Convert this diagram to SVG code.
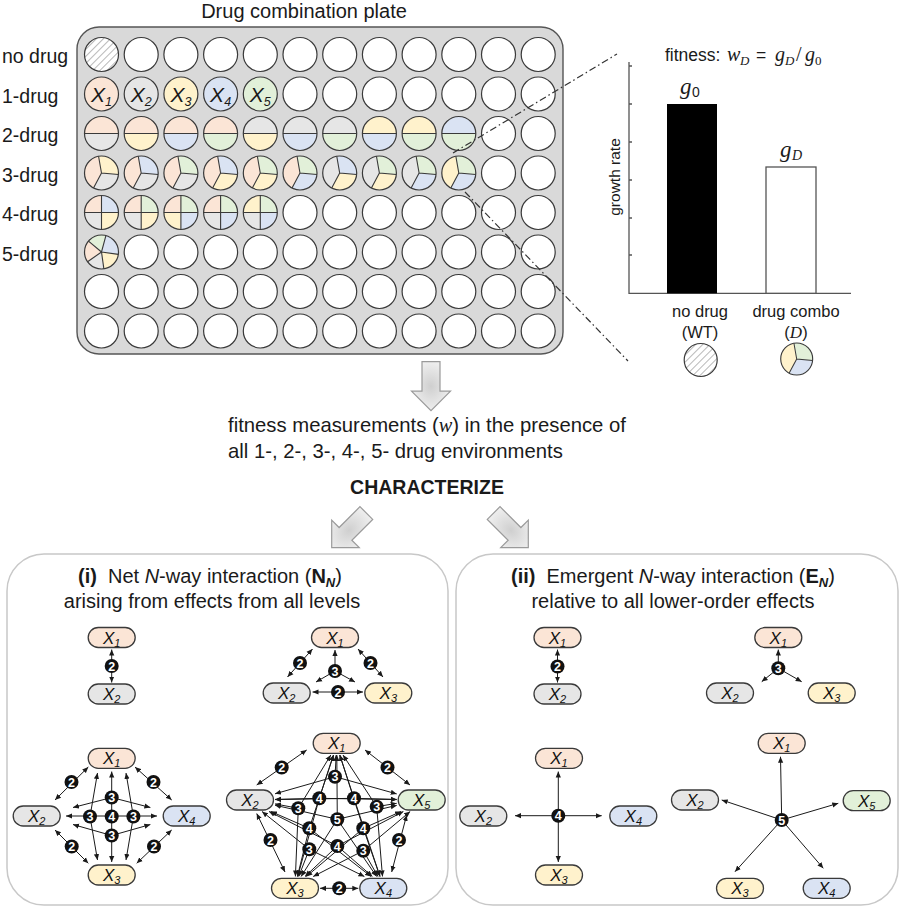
<svg xmlns="http://www.w3.org/2000/svg" xmlns:xlink="http://www.w3.org/1999/xlink" width="900" height="911" viewBox="0 0 900 911">
<style>
.t{font-family:"Liberation Sans",Arial,sans-serif;fill:#1a1a1a}
.m{font-family:"Liberation Serif","Times New Roman",serif;font-style:italic}
.c1{fill:#fbe5d6}.c2{fill:#e6e6e6}.c3{fill:#fff2cc}.c4{fill:#dae3f3}.c5{fill:#e2f0d9}
.nd{stroke:#3a3a3a;stroke-width:1.3}
.nt{font-family:"Liberation Sans",Arial,sans-serif;font-style:italic;font-size:17px;text-anchor:middle;fill:#111}
.sb{font-size:11px}
.e1{stroke:#1a1a1a;stroke-width:1;fill:none;marker-end:url(#ah)}
.e2{stroke:#1a1a1a;stroke-width:1;fill:none;marker-start:url(#ah);marker-end:url(#ah)}
.bd circle{fill:#111}
.bd text{fill:#fff;font-family:"Liberation Sans",Arial,sans-serif;font-weight:bold;font-size:12.5px;text-anchor:middle}
.dd{stroke:#333;stroke-width:1.2;fill:none;stroke-dasharray:7 3 1.5 3}
.pn{fill:#fff;stroke:#c8c8c8;stroke-width:1.5}
.ba{fill:url(#gg);stroke:#9a9a9a;stroke-width:1.2}
</style>
<defs>
<marker id="ah" viewBox="0 0 6 6" refX="6" refY="3" markerWidth="6" markerHeight="6" markerUnits="userSpaceOnUse" orient="auto-start-reverse"><path d="M0,0.4 L6,3 L0,5.6 Z" fill="#1a1a1a"/></marker>
<radialGradient id="gg" cx="0.5" cy="0.5" r="0.6"><stop offset="0" stop-color="#cfcfcf"/><stop offset="1" stop-color="#f4f4f4"/></radialGradient>
<pattern id="hatch" patternUnits="userSpaceOnUse" width="5" height="5" patternTransform="rotate(45)"><rect width="5" height="5" fill="#fff"/><line x1="0" y1="0" x2="0" y2="5" stroke="#8a8a8a" stroke-width="1.2"/></pattern>
<path id="barrow" d="M-9,-49 L9,-49 L9,-19.5 L19.5,-19.5 L0,0 L-19.5,-19.5 L-9,-19.5 Z"/>
<circle id="ww" r="17" fill="#fff" stroke="#3a3a3a" stroke-width="1.2"/>
<circle id="wf" r="17" stroke="#3a3a3a" stroke-width="1.2"/>
<circle id="wo" r="17" fill="none" stroke="#3a3a3a" stroke-width="1.2"/>
<path id="h2t" d="M-17,0 A17,17 0 0 1 17,0 Z"/>
<path id="h2b" d="M17,0 A17,17 0 0 1 -17,0 Z"/>
<path id="d2" d="M-17,0 H17" fill="none" stroke="#3a3a3a" stroke-width="1.1"/>
<path id="t3u" d="M0,0 L-2.95,-16.74 A17,17 0 0 1 16.94,1.48 Z"/>
<path id="t3b" d="M0,0 L16.94,1.48 A17,17 0 0 1 -7.98,15.01 Z"/>
<path id="t3l" d="M0,0 L-7.98,15.01 A17,17 0 0 1 -2.95,-16.74 Z"/>
<path id="d3" d="M-2.95,-16.74 L0,0 L16.94,1.48 M0,0 L-7.98,15.01" fill="none" stroke="#3a3a3a" stroke-width="1.1"/>
<path id="qtl" d="M0,0 L-17,0 A17,17 0 0 1 0,-17 Z"/>
<path id="qtr" d="M0,0 L0,-17 A17,17 0 0 1 17,0 Z"/>
<path id="qbr" d="M0,0 L17,0 A17,17 0 0 1 0,17 Z"/>
<path id="qbl" d="M0,0 L0,17 A17,17 0 0 1 -17,0 Z"/>
<path id="d4" d="M-17,0 H17 M0,-17 V17" fill="none" stroke="#3a3a3a" stroke-width="1.1"/>
</defs>

<rect width="900" height="911" fill="#fff"/>

<!-- plate -->
<g id="plate">
<text class="t" x="304" y="17.5" font-size="20" text-anchor="middle">Drug combination plate</text>
<g class="t" font-size="19.5">
<text x="2" y="63">no drug</text>
<text x="2" y="102.5">1-drug</text>
<text x="2" y="142">2-drug</text>
<text x="2" y="181.5">3-drug</text>
<text x="2" y="221">4-drug</text>
<text x="2" y="260.5">5-drug</text>
</g>
<rect x="77" y="27" width="486" height="327" rx="22" fill="#d9d9d9" stroke="#555" stroke-width="1.4"/>
<g id="white-wells">
<use href="#ww" x="141.2" y="54.5"/><use href="#ww" x="180.9" y="54.5"/><use href="#ww" x="220.6" y="54.5"/><use href="#ww" x="260.3" y="54.5"/><use href="#ww" x="300" y="54.5"/><use href="#ww" x="339.7" y="54.5"/><use href="#ww" x="379.4" y="54.5"/><use href="#ww" x="419.1" y="54.5"/><use href="#ww" x="458.8" y="54.5"/><use href="#ww" x="498.5" y="54.5"/><use href="#ww" x="538.2" y="54.5"/>
<use href="#ww" x="300" y="94"/><use href="#ww" x="339.7" y="94"/><use href="#ww" x="379.4" y="94"/><use href="#ww" x="419.1" y="94"/><use href="#ww" x="458.8" y="94"/><use href="#ww" x="498.5" y="94"/><use href="#ww" x="538.2" y="94"/>
<use href="#ww" x="498.5" y="133.5"/><use href="#ww" x="538.2" y="133.5"/>
<use href="#ww" x="498.5" y="173"/><use href="#ww" x="538.2" y="173"/>
<use href="#ww" x="300" y="212.5"/><use href="#ww" x="339.7" y="212.5"/><use href="#ww" x="379.4" y="212.5"/><use href="#ww" x="419.1" y="212.5"/><use href="#ww" x="458.8" y="212.5"/><use href="#ww" x="498.5" y="212.5"/><use href="#ww" x="538.2" y="212.5"/>
<use href="#ww" x="141.2" y="252"/><use href="#ww" x="180.9" y="252"/><use href="#ww" x="220.6" y="252"/><use href="#ww" x="260.3" y="252"/><use href="#ww" x="300" y="252"/><use href="#ww" x="339.7" y="252"/><use href="#ww" x="379.4" y="252"/><use href="#ww" x="419.1" y="252"/><use href="#ww" x="458.8" y="252"/><use href="#ww" x="498.5" y="252"/><use href="#ww" x="538.2" y="252"/>
<use href="#ww" x="101.5" y="291.5"/><use href="#ww" x="141.2" y="291.5"/><use href="#ww" x="180.9" y="291.5"/><use href="#ww" x="220.6" y="291.5"/><use href="#ww" x="260.3" y="291.5"/><use href="#ww" x="300" y="291.5"/><use href="#ww" x="339.7" y="291.5"/><use href="#ww" x="379.4" y="291.5"/><use href="#ww" x="419.1" y="291.5"/><use href="#ww" x="458.8" y="291.5"/><use href="#ww" x="498.5" y="291.5"/><use href="#ww" x="538.2" y="291.5"/>
<use href="#ww" x="101.5" y="331"/><use href="#ww" x="141.2" y="331"/><use href="#ww" x="180.9" y="331"/><use href="#ww" x="220.6" y="331"/><use href="#ww" x="260.3" y="331"/><use href="#ww" x="300" y="331"/><use href="#ww" x="339.7" y="331"/><use href="#ww" x="379.4" y="331"/><use href="#ww" x="419.1" y="331"/><use href="#ww" x="458.8" y="331"/><use href="#ww" x="498.5" y="331"/><use href="#ww" x="538.2" y="331"/>
</g>
<circle cx="101.5" cy="54.5" r="17" fill="url(#hatch)" stroke="#3a3a3a" stroke-width="1.2"/>
<g id="one-drug" class="t" font-size="21" font-style="italic" text-anchor="middle">
<use href="#wf" x="101.5" y="94" class="c1"/><text x="101.5" y="101.5">X<tspan font-size="12.5" dy="4">1</tspan></text>
<use href="#wf" x="141.2" y="94" class="c2"/><text x="141.2" y="101.5">X<tspan font-size="12.5" dy="4">2</tspan></text>
<use href="#wf" x="180.9" y="94" class="c3"/><text x="180.9" y="101.5">X<tspan font-size="12.5" dy="4">3</tspan></text>
<use href="#wf" x="220.6" y="94" class="c4"/><text x="220.6" y="101.5">X<tspan font-size="12.5" dy="4">4</tspan></text>
<use href="#wf" x="260.3" y="94" class="c5"/><text x="260.3" y="101.5">X<tspan font-size="12.5" dy="4">5</tspan></text>
</g>
<g id="two-drug">
<g transform="translate(101.5,133.5)"><use href="#h2t" class="c1"/><use href="#h2b" class="c2"/><use href="#d2"/><use href="#wo"/></g>
<g transform="translate(141.2,133.5)"><use href="#h2t" class="c1"/><use href="#h2b" class="c3"/><use href="#d2"/><use href="#wo"/></g>
<g transform="translate(180.9,133.5)"><use href="#h2t" class="c1"/><use href="#h2b" class="c4"/><use href="#d2"/><use href="#wo"/></g>
<g transform="translate(220.6,133.5)"><use href="#h2t" class="c1"/><use href="#h2b" class="c5"/><use href="#d2"/><use href="#wo"/></g>
<g transform="translate(260.3,133.5)"><use href="#h2t" class="c2"/><use href="#h2b" class="c3"/><use href="#d2"/><use href="#wo"/></g>
<g transform="translate(300,133.5)"><use href="#h2t" class="c2"/><use href="#h2b" class="c4"/><use href="#d2"/><use href="#wo"/></g>
<g transform="translate(339.7,133.5)"><use href="#h2t" class="c2"/><use href="#h2b" class="c5"/><use href="#d2"/><use href="#wo"/></g>
<g transform="translate(379.4,133.5)"><use href="#h2t" class="c3"/><use href="#h2b" class="c4"/><use href="#d2"/><use href="#wo"/></g>
<g transform="translate(419.1,133.5)"><use href="#h2t" class="c3"/><use href="#h2b" class="c5"/><use href="#d2"/><use href="#wo"/></g>
<g transform="translate(458.8,133.5)"><use href="#h2t" class="c4"/><use href="#h2b" class="c5"/><use href="#d2"/><use href="#wo"/></g>
</g>
<g id="three-drug">
<g transform="translate(101.5,173)"><use href="#t3l" class="c1"/><use href="#t3b" class="c2"/><use href="#t3u" class="c3"/><use href="#d3"/><use href="#wo"/></g>
<g transform="translate(141.2,173)"><use href="#t3l" class="c1"/><use href="#t3b" class="c2"/><use href="#t3u" class="c4"/><use href="#d3"/><use href="#wo"/></g>
<g transform="translate(180.9,173)"><use href="#t3l" class="c1"/><use href="#t3b" class="c2"/><use href="#t3u" class="c5"/><use href="#d3"/><use href="#wo"/></g>
<g transform="translate(220.6,173)"><use href="#t3l" class="c1"/><use href="#t3b" class="c3"/><use href="#t3u" class="c4"/><use href="#d3"/><use href="#wo"/></g>
<g transform="translate(260.3,173)"><use href="#t3l" class="c1"/><use href="#t3b" class="c3"/><use href="#t3u" class="c5"/><use href="#d3"/><use href="#wo"/></g>
<g transform="translate(300,173)"><use href="#t3l" class="c1"/><use href="#t3b" class="c4"/><use href="#t3u" class="c5"/><use href="#d3"/><use href="#wo"/></g>
<g transform="translate(339.7,173)"><use href="#t3l" class="c2"/><use href="#t3b" class="c3"/><use href="#t3u" class="c4"/><use href="#d3"/><use href="#wo"/></g>
<g transform="translate(379.4,173)"><use href="#t3l" class="c2"/><use href="#t3b" class="c3"/><use href="#t3u" class="c5"/><use href="#d3"/><use href="#wo"/></g>
<g transform="translate(419.1,173)"><use href="#t3l" class="c2"/><use href="#t3b" class="c4"/><use href="#t3u" class="c5"/><use href="#d3"/><use href="#wo"/></g>
<g transform="translate(458.8,173)"><use href="#t3l" class="c3"/><use href="#t3b" class="c4"/><use href="#t3u" class="c5"/><use href="#d3"/><use href="#wo"/></g>
</g>
<g id="four-drug">
<g transform="translate(101.5,212.5)"><use href="#qtl" class="c1"/><use href="#qtr" class="c4"/><use href="#qbl" class="c2"/><use href="#qbr" class="c3"/><use href="#d4"/><use href="#wo"/></g>
<g transform="translate(141.2,212.5)"><use href="#qtl" class="c1"/><use href="#qtr" class="c5"/><use href="#qbl" class="c2"/><use href="#qbr" class="c3"/><use href="#d4"/><use href="#wo"/></g>
<g transform="translate(180.9,212.5)"><use href="#qtl" class="c1"/><use href="#qtr" class="c5"/><use href="#qbl" class="c3"/><use href="#qbr" class="c4"/><use href="#d4"/><use href="#wo"/></g>
<g transform="translate(220.6,212.5)"><use href="#qtl" class="c1"/><use href="#qtr" class="c5"/><use href="#qbl" class="c2"/><use href="#qbr" class="c4"/><use href="#d4"/><use href="#wo"/></g>
<g transform="translate(260.3,212.5)"><use href="#qtl" class="c3"/><use href="#qtr" class="c5"/><use href="#qbl" class="c2"/><use href="#qbr" class="c4"/><use href="#d4"/><use href="#wo"/></g>
</g>
<g id="five-drug" transform="translate(101.5,252)">
<path class="c1" d="M0,0 L-13.93,9.75 A17,17 0 0 1 -13.02,-10.93 Z"/>
<path class="c5" d="M0,0 L-13.02,-10.93 A17,17 0 0 1 4.4,-16.42 Z"/>
<path class="c4" d="M0,0 L4.4,-16.42 A17,17 0 0 1 16.83,2.37 Z"/>
<path class="c3" d="M0,0 L16.83,2.37 A17,17 0 0 1 2.37,16.83 Z"/>
<path class="c2" d="M0,0 L2.37,16.83 A17,17 0 0 1 -13.93,9.75 Z"/>
<path d="M0,0 L-13.93,9.75 M0,0 L-13.02,-10.93 M0,0 L4.4,-16.42 M0,0 L16.83,2.37 M0,0 L2.37,16.83" fill="none" stroke="#3a3a3a" stroke-width="1.1"/>
<use href="#wo"/>
</g>
</g>

<!-- zoom lines -->
<g id="zoom-lines">
<line class="dd" x1="453" y1="153" x2="617" y2="54"/>
<line class="dd" x1="465" y1="192" x2="628" y2="361"/>
</g>

<!-- bar chart -->
<g id="chart">
<g class="t" font-size="17.5">
<text x="665" y="61">fitness:</text>
<text class="m" x="727" y="61" font-size="20">w</text>
<text class="m" x="740" y="64.5" font-size="13">D</text>
<text x="756" y="61">=</text>
<text class="m" x="775" y="61" font-size="20">g</text>
<text class="m" x="785" y="64.5" font-size="13">D</text>
<text x="796" y="61" font-family="Liberation Serif" font-size="20">/</text>
<text class="m" x="805" y="61" font-size="20">g</text>
<text x="815" y="64.5" font-family="Liberation Serif" font-size="13">0</text>
</g>
<path d="M629,62 V293.3 H851 M629,66 h3 M629,104 h3 M629,142 h3 M629,180 h3 M629,218 h3 M629,255 h3" fill="none" stroke="#555" stroke-width="1.3"/>
<rect x="667" y="104" width="50" height="189.3" fill="#000"/>
<rect x="766" y="167" width="50" height="126.3" fill="#fff" stroke="#555" stroke-width="1.3"/>
<text class="t" transform="translate(620,177) rotate(-90)" font-size="15.5" text-anchor="middle" fill="#333">growth rate</text>
<text class="t m" x="680" y="94" font-size="23">g</text>
<text class="t" x="692" y="97" font-size="14" font-family="Liberation Serif">0</text>
<text class="t m" x="780" y="157" font-size="23">g</text>
<text class="t m" x="792" y="160" font-size="14">D</text>
<g class="t" font-size="16.5" text-anchor="middle">
<text x="700" y="317">no drug</text>
<text x="700" y="338">(WT)</text>
<text x="796" y="317">drug combo</text>
<text x="796" y="338">(<tspan class="m" font-size="17">D</tspan>)</text>
</g>
<circle cx="700.7" cy="360" r="16.5" fill="url(#hatch)" stroke="#3a3a3a" stroke-width="1.2"/>
<g transform="translate(796.7,359) scale(0.94)"><use href="#t3l" class="c3"/><use href="#t3b" class="c4"/><use href="#t3u" class="c5"/><use href="#d3"/><use href="#wo"/></g>
</g>

<!-- arrows & middle text -->
<g id="block-arrows">
<use href="#barrow" class="ba" transform="translate(431,410.7)"/>
<use href="#barrow" class="ba" transform="translate(331.7,547.7) rotate(45)"/>
<use href="#barrow" class="ba" transform="translate(528.3,547.7) rotate(-45)"/>
</g>
<g id="mid-text" class="t" font-size="20.3">
<text x="228" y="432">fitness measurements (<tspan class="m">w</tspan>) in the presence of</text>
<text x="228" y="457.5">all 1-, 2-, 3-, 4-, 5- drug environments</text>
<text x="427" y="494" font-weight="bold" font-size="19.5" text-anchor="middle">CHARACTERIZE</text>
</g>

<!-- panels -->
<g id="panel-i">
<rect class="pn" x="7" y="554" width="441" height="351" rx="37"/>
<text class="t" x="210" y="583" font-size="20" text-anchor="middle"><tspan font-weight="bold">(i)</tspan><tspan dx="11">Net </tspan><tspan font-style="italic">N</tspan>-way interaction (<tspan font-weight="bold">N</tspan><tspan font-weight="bold" font-style="italic" font-size="13" dy="4">N</tspan><tspan dy="-4">)</tspan></text>
<text class="t" x="212" y="608" font-size="20" text-anchor="middle">arising from effects from all levels</text>
</g>
<g id="panel-ii">
<rect class="pn" x="456" y="554" width="442" height="351" rx="37"/>
<text class="t" x="673" y="583" font-size="20" text-anchor="middle"><tspan font-weight="bold">(ii)</tspan><tspan dx="11">Emergent </tspan><tspan font-style="italic">N</tspan>-way interaction (<tspan font-weight="bold">E</tspan><tspan font-weight="bold" font-style="italic" font-size="13" dy="4">N</tspan><tspan dy="-4">)</tspan></text>
<text class="t" x="673" y="608" font-size="20" text-anchor="middle">relative to all lower-order effects</text>
</g>

<!-- connectors -->
<g id="connectors">
<line class="e2" x1="111.7" y1="649.5" x2="111.7" y2="682.5"/>
<line class="e2" x1="287.5" y1="677" x2="312.5" y2="649"/>
<line class="e2" x1="358" y1="649" x2="383" y2="677"/>
<line class="e2" x1="312.5" y1="692" x2="363" y2="692"/>
<line class="e1" x1="335" y1="671" x2="335" y2="650"/>
<line class="e1" x1="335" y1="671" x2="316" y2="682"/>
<line class="e1" x1="335" y1="671" x2="355" y2="682"/>
<line class="e2" x1="55" y1="800" x2="88.3" y2="767"/>
<line class="e2" x1="135" y1="767" x2="171.7" y2="800"/>
<line class="e2" x1="55" y1="830" x2="88.3" y2="863.3"/>
<line class="e2" x1="171.7" y1="830" x2="136.7" y2="863.3"/>
<line class="e2" x1="111.7" y1="771.5" x2="111.7" y2="862"/>
<line class="e2" x1="66" y1="816" x2="157" y2="816"/>
<line class="e1" x1="111.7" y1="797.5" x2="73" y2="807.5"/>
<line class="e1" x1="111.7" y1="797.5" x2="150.4" y2="807.5"/>
<line class="e1" x1="111.7" y1="835.5" x2="73" y2="824.5"/>
<line class="e1" x1="111.7" y1="835.5" x2="150.4" y2="824.5"/>
<line class="e1" x1="90" y1="816.5" x2="97.5" y2="773"/>
<line class="e1" x1="90" y1="816.5" x2="97.5" y2="860"/>
<line class="e1" x1="133.4" y1="816.5" x2="126" y2="773"/>
<line class="e1" x1="133.4" y1="816.5" x2="126" y2="860"/>
<line class="e2" x1="256.7" y1="785" x2="306.7" y2="750"/>
<line class="e2" x1="365" y1="750" x2="410" y2="785"/>
<line class="e2" x1="256.7" y1="813.5" x2="285" y2="872"/>
<line class="e2" x1="406.7" y1="815" x2="391.7" y2="872"/>
<line class="e2" x1="320" y1="888.3" x2="358.3" y2="888.3"/>
<path class="e1" d="M335,776.7 L336.2,755"/><path class="e1" d="M335,776.7 L275,793.8"/><path class="e1" d="M335,776.7 L396.7,793.9"/>
<path class="e1" d="M298.3,808.3 L330.8,755"/><path class="e1" d="M298.3,808.3 L275,803.9"/><path class="e1" d="M298.3,808.3 L295.4,876.5"/>
<path class="e1" d="M376.7,806.7 L343,755"/><path class="e1" d="M376.7,806.7 L396.7,803.3"/><path class="e1" d="M376.7,806.7 L382.5,876.5"/>
<path class="e1" d="M309.3,849.3 L262,811.5"/><path class="e1" d="M309.3,849.3 L298.7,876.5"/><path class="e1" d="M309.3,849.3 L364.4,876.5"/>
<path class="e1" d="M363.3,850.7 L410.2,811.5"/><path class="e1" d="M363.3,850.7 L378,876.5"/><path class="e1" d="M363.3,850.7 L313.2,876.5"/>
<path class="e1" d="M319.3,798.3 L333.5,755"/><path class="e1" d="M319.3,798.3 L275,799.4"/><path class="e1" d="M319.3,798.3 L297.7,876.5"/><path class="e1" d="M319.3,798.3 L396.7,799.6"/>
<path class="e1" d="M354,798.3 L339.8,755"/><path class="e1" d="M354,798.3 L275,799.6"/><path class="e1" d="M354,798.3 L380,876.5"/><path class="e1" d="M354,798.3 L396.7,799.4"/>
<path class="e1" d="M309.3,828.3 L333.5,755"/><path class="e1" d="M309.3,828.3 L270.9,811.5"/><path class="e1" d="M309.3,828.3 L297.4,876.5"/><path class="e1" d="M309.3,828.3 L371,876.5"/>
<path class="e1" d="M363.3,828.3 L339.8,755"/><path class="e1" d="M363.3,828.3 L306.4,876.5"/><path class="e1" d="M363.3,828.3 L380,876.5"/><path class="e1" d="M363.3,828.3 L401.1,811.5"/>
<path class="e1" d="M337.3,846 L269,811.5"/><path class="e1" d="M337.3,846 L305,876.5"/><path class="e1" d="M337.3,846 L372.4,876.5"/><path class="e1" d="M337.3,846 L403.4,811.5"/>
<path class="e1" d="M337.3,819.3 L336.8,755"/><path class="e1" d="M337.3,819.3 L275,805.2"/><path class="e1" d="M337.3,819.3 L301.1,876.5"/><path class="e1" d="M337.3,819.3 L376.6,876.5"/><path class="e1" d="M337.3,819.3 L396.7,805.4"/>
<line class="e2" x1="557.5" y1="649.5" x2="557.5" y2="682.5"/>
<line class="e1" x1="778.3" y1="668.3" x2="778.3" y2="649.5"/>
<line class="e1" x1="778.3" y1="668.3" x2="761.7" y2="681.7"/>
<line class="e1" x1="778.3" y1="668.3" x2="801.7" y2="681.7"/>
<line class="e1" x1="558.3" y1="815.7" x2="558.3" y2="771.5"/>
<line class="e1" x1="558.3" y1="815.7" x2="558.3" y2="862"/>
<line class="e1" x1="558.3" y1="815.7" x2="515" y2="815.7"/>
<line class="e1" x1="558.3" y1="815.7" x2="601.7" y2="815.7"/>
<line class="e1" x1="781.7" y1="820" x2="780.5" y2="756.7"/>
<line class="e1" x1="781.7" y1="820" x2="721.7" y2="800"/>
<line class="e1" x1="781.7" y1="820" x2="838.3" y2="803.3"/>
<line class="e1" x1="781.7" y1="820" x2="735" y2="871.7"/>
<line class="e1" x1="781.7" y1="820" x2="823.3" y2="868.3"/>
</g>

<!-- badges -->
<g id="badges">
<g class="bd" transform="translate(111.7,666)"><circle r="7"/><text y="4.5">2</text></g>
<g class="bd" transform="translate(300,663)"><circle r="7"/><text y="4.5">2</text></g>
<g class="bd" transform="translate(370.5,663)"><circle r="7"/><text y="4.5">2</text></g>
<g class="bd" transform="translate(338,692)"><circle r="7"/><text y="4.5">2</text></g>
<g class="bd" transform="translate(335,671)"><circle r="7"/><text y="4.5">3</text></g>
<g class="bd" transform="translate(71.5,782)"><circle r="7"/><text y="4.5">2</text></g>
<g class="bd" transform="translate(153.5,782)"><circle r="7"/><text y="4.5">2</text></g>
<g class="bd" transform="translate(71.7,846.5)"><circle r="7"/><text y="4.5">2</text></g>
<g class="bd" transform="translate(154,846.5)"><circle r="7"/><text y="4.5">2</text></g>
<g class="bd" transform="translate(111.7,797.5)"><circle r="7"/><text y="4.5">3</text></g>
<g class="bd" transform="translate(111.7,835.5)"><circle r="7"/><text y="4.5">3</text></g>
<g class="bd" transform="translate(90,816.5)"><circle r="7"/><text y="4.5">3</text></g>
<g class="bd" transform="translate(133.4,816.5)"><circle r="7"/><text y="4.5">3</text></g>
<g class="bd" transform="translate(111.7,816.5)"><circle r="7"/><text y="4.5">4</text></g>
<g class="bd" transform="translate(281.7,767.5)"><circle r="7"/><text y="4.5">2</text></g>
<g class="bd" transform="translate(387.5,767.5)"><circle r="7"/><text y="4.5">2</text></g>
<g class="bd" transform="translate(270.5,840)"><circle r="7"/><text y="4.5">2</text></g>
<g class="bd" transform="translate(399,840)"><circle r="7"/><text y="4.5">2</text></g>
<g class="bd" transform="translate(339.2,888.3)"><circle r="7"/><text y="4.5">2</text></g>
<g class="bd" transform="translate(335,776.7)"><circle r="7"/><text y="4.5">3</text></g>
<g class="bd" transform="translate(298.3,808.3)"><circle r="7"/><text y="4.5">3</text></g>
<g class="bd" transform="translate(376.7,806.7)"><circle r="7"/><text y="4.5">3</text></g>
<g class="bd" transform="translate(309.3,849.3)"><circle r="7"/><text y="4.5">3</text></g>
<g class="bd" transform="translate(363.3,850.7)"><circle r="7"/><text y="4.5">3</text></g>
<g class="bd" transform="translate(319.3,798.3)"><circle r="7"/><text y="4.5">4</text></g>
<g class="bd" transform="translate(354,798.3)"><circle r="7"/><text y="4.5">4</text></g>
<g class="bd" transform="translate(309.3,828.3)"><circle r="7"/><text y="4.5">4</text></g>
<g class="bd" transform="translate(363.3,828.3)"><circle r="7"/><text y="4.5">4</text></g>
<g class="bd" transform="translate(337.3,846)"><circle r="7"/><text y="4.5">4</text></g>
<g class="bd" transform="translate(337.3,819.3)"><circle r="7"/><text y="4.5">5</text></g>
<g class="bd" transform="translate(557.5,666.5)"><circle r="7"/><text y="4.5">2</text></g>
<g class="bd" transform="translate(778.3,668.3)"><circle r="7"/><text y="4.5">3</text></g>
<g class="bd" transform="translate(558.3,815.7)"><circle r="7"/><text y="4.5">4</text></g>
<g class="bd" transform="translate(781.7,820)"><circle r="7"/><text y="4.5">5</text></g>
</g>

<!-- nodes -->
<g id="nodes">
<g id="iA-x1" transform="translate(111.7,637.5)"><rect class="nd c1" x="-23.5" y="-10" width="47" height="20" rx="10"/><text class="nt" y="6">X<tspan class="sb" dy="3">1</tspan></text></g>
<g id="iA-x2" transform="translate(111.7,694)"><rect class="nd c2" x="-23.5" y="-10" width="47" height="20" rx="10"/><text class="nt" y="6">X<tspan class="sb" dy="3">2</tspan></text></g>
<g id="iB-x1" transform="translate(335,637.5)"><rect class="nd c1" x="-23.5" y="-10" width="47" height="20" rx="10"/><text class="nt" y="6">X<tspan class="sb" dy="3">1</tspan></text></g>
<g id="iB-x2" transform="translate(286.7,693)"><rect class="nd c2" x="-23.5" y="-10" width="47" height="20" rx="10"/><text class="nt" y="6">X<tspan class="sb" dy="3">2</tspan></text></g>
<g id="iB-x3" transform="translate(388.3,693)"><rect class="nd c3" x="-23.5" y="-10" width="47" height="20" rx="10"/><text class="nt" y="6">X<tspan class="sb" dy="3">3</tspan></text></g>
<g id="iC-x1" transform="translate(111.7,758.3)"><rect class="nd c1" x="-23.5" y="-10" width="47" height="20" rx="10"/><text class="nt" y="6">X<tspan class="sb" dy="3">1</tspan></text></g>
<g id="iC-x2" transform="translate(36.7,816)"><rect class="nd c2" x="-23.5" y="-10" width="47" height="20" rx="10"/><text class="nt" y="6">X<tspan class="sb" dy="3">2</tspan></text></g>
<g id="iC-x4" transform="translate(186.7,816)"><rect class="nd c4" x="-23.5" y="-10" width="47" height="20" rx="10"/><text class="nt" y="6">X<tspan class="sb" dy="3">4</tspan></text></g>
<g id="iC-x3" transform="translate(111.7,875)"><rect class="nd c3" x="-23.5" y="-10" width="47" height="20" rx="10"/><text class="nt" y="6">X<tspan class="sb" dy="3">3</tspan></text></g>
<g id="iD-x1" transform="translate(336.7,743.3)"><rect class="nd c1" x="-23.5" y="-10" width="47" height="20" rx="10"/><text class="nt" y="6">X<tspan class="sb" dy="3">1</tspan></text></g>
<g id="iD-x2" transform="translate(250,800)"><rect class="nd c2" x="-23.5" y="-10" width="47" height="20" rx="10"/><text class="nt" y="6">X<tspan class="sb" dy="3">2</tspan></text></g>
<g id="iD-x5" transform="translate(421.7,800)"><rect class="nd c5" x="-23.5" y="-10" width="47" height="20" rx="10"/><text class="nt" y="6">X<tspan class="sb" dy="3">5</tspan></text></g>
<g id="iD-x3" transform="translate(295,888.3)"><rect class="nd c3" x="-23.5" y="-10" width="47" height="20" rx="10"/><text class="nt" y="6">X<tspan class="sb" dy="3">3</tspan></text></g>
<g id="iD-x4" transform="translate(383.3,888.3)"><rect class="nd c4" x="-23.5" y="-10" width="47" height="20" rx="10"/><text class="nt" y="6">X<tspan class="sb" dy="3">4</tspan></text></g>
<g id="iiA-x1" transform="translate(557.5,637.5)"><rect class="nd c1" x="-23.5" y="-10" width="47" height="20" rx="10"/><text class="nt" y="6">X<tspan class="sb" dy="3">1</tspan></text></g>
<g id="iiA-x2" transform="translate(557.5,694)"><rect class="nd c2" x="-23.5" y="-10" width="47" height="20" rx="10"/><text class="nt" y="6">X<tspan class="sb" dy="3">2</tspan></text></g>
<g id="iiB-x1" transform="translate(778.3,637.5)"><rect class="nd c1" x="-23.5" y="-10" width="47" height="20" rx="10"/><text class="nt" y="6">X<tspan class="sb" dy="3">1</tspan></text></g>
<g id="iiB-x2" transform="translate(730,693)"><rect class="nd c2" x="-23.5" y="-10" width="47" height="20" rx="10"/><text class="nt" y="6">X<tspan class="sb" dy="3">2</tspan></text></g>
<g id="iiB-x3" transform="translate(831.7,693)"><rect class="nd c3" x="-23.5" y="-10" width="47" height="20" rx="10"/><text class="nt" y="6">X<tspan class="sb" dy="3">3</tspan></text></g>
<g id="iiC-x1" transform="translate(559,758.3)"><rect class="nd c1" x="-23.5" y="-10" width="47" height="20" rx="10"/><text class="nt" y="6">X<tspan class="sb" dy="3">1</tspan></text></g>
<g id="iiC-x2" transform="translate(483.3,816)"><rect class="nd c2" x="-23.5" y="-10" width="47" height="20" rx="10"/><text class="nt" y="6">X<tspan class="sb" dy="3">2</tspan></text></g>
<g id="iiC-x4" transform="translate(633.3,816)"><rect class="nd c4" x="-23.5" y="-10" width="47" height="20" rx="10"/><text class="nt" y="6">X<tspan class="sb" dy="3">4</tspan></text></g>
<g id="iiC-x3" transform="translate(559,875)"><rect class="nd c3" x="-23.5" y="-10" width="47" height="20" rx="10"/><text class="nt" y="6">X<tspan class="sb" dy="3">3</tspan></text></g>
<g id="iiD-x1" transform="translate(781.7,743.3)"><rect class="nd c1" x="-23.5" y="-10" width="47" height="20" rx="10"/><text class="nt" y="6">X<tspan class="sb" dy="3">1</tspan></text></g>
<g id="iiD-x2" transform="translate(695,800)"><rect class="nd c2" x="-23.5" y="-10" width="47" height="20" rx="10"/><text class="nt" y="6">X<tspan class="sb" dy="3">2</tspan></text></g>
<g id="iiD-x5" transform="translate(866.7,800.7)"><rect class="nd c5" x="-23.5" y="-10" width="47" height="20" rx="10"/><text class="nt" y="6">X<tspan class="sb" dy="3">5</tspan></text></g>
<g id="iiD-x3" transform="translate(740,888.3)"><rect class="nd c3" x="-23.5" y="-10" width="47" height="20" rx="10"/><text class="nt" y="6">X<tspan class="sb" dy="3">3</tspan></text></g>
<g id="iiD-x4" transform="translate(826.7,888.3)"><rect class="nd c4" x="-23.5" y="-10" width="47" height="20" rx="10"/><text class="nt" y="6">X<tspan class="sb" dy="3">4</tspan></text></g>
</g>
</svg>
